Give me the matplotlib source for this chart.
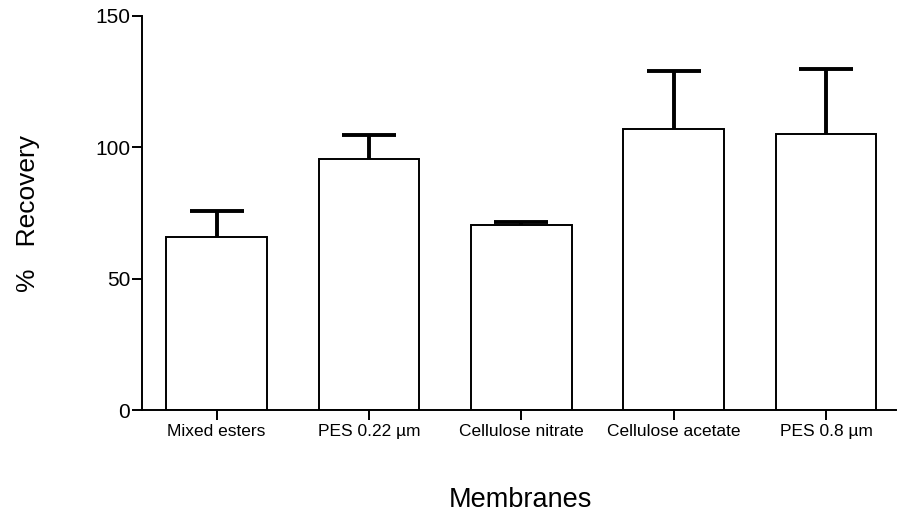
import matplotlib
matplotlib.use("Agg")
import matplotlib.pyplot as plt
import numpy as np

categories = ["Mixed esters", "PES 0.22 µm", "Cellulose nitrate", "Cellulose acetate", "PES 0.8 µm"]
means = [66.0, 95.5, 70.4, 106.8, 105.1]
errors = [9.8, 9.2, 1.0, 22.4, 24.9]
yticks = [0, 50, 100, 150]

plt.rcParams['font.family'] = ['Liberation Sans', 'DejaVu Sans']

fig = plt.figure(figsize=(8.97, 5.14), dpi=100)
ax = fig.add_axes([0.1583, 0.2023, 0.8407, 0.7666])

x = np.arange(len(categories))
ax.bar(x, means, width=0.66, color='white', edgecolor='black', linewidth=1.4, zorder=2)
eb = ax.errorbar(x, means, yerr=[np.zeros(len(errors)), errors], fmt='none', ecolor='black',
                 elinewidth=2.8, capsize=19.5, capthick=2.8, zorder=3)
eb[1][0].set_visible(False)

ax.set_xlim(-0.49, 4.46)
ax.set_ylim(0, 150)
ax.set_yticks(yticks)
ax.set_yticklabels([str(t) for t in yticks], fontsize=15)
ax.set_xticks(x)
ax.set_xticklabels(categories, fontsize=12.5)
ax.spines['top'].set_visible(False)
ax.spines['right'].set_visible(False)
ax.spines['left'].set_linewidth(1.4)
ax.spines['bottom'].set_linewidth(1.4)
ax.tick_params(axis='y', length=7, width=1.4, pad=1.5)
ax.tick_params(axis='x', length=7, width=1.4, pad=3)

ax.set_ylabel("%   Recovery", fontsize=19)
ax.yaxis.set_label_coords(-0.135, 0.50)
ax.set_xlabel("Membranes", fontsize=19.5, va='center')
ax.xaxis.set_label_coords(0.502, -0.228)

fig.savefig("out.png", dpi=100)
